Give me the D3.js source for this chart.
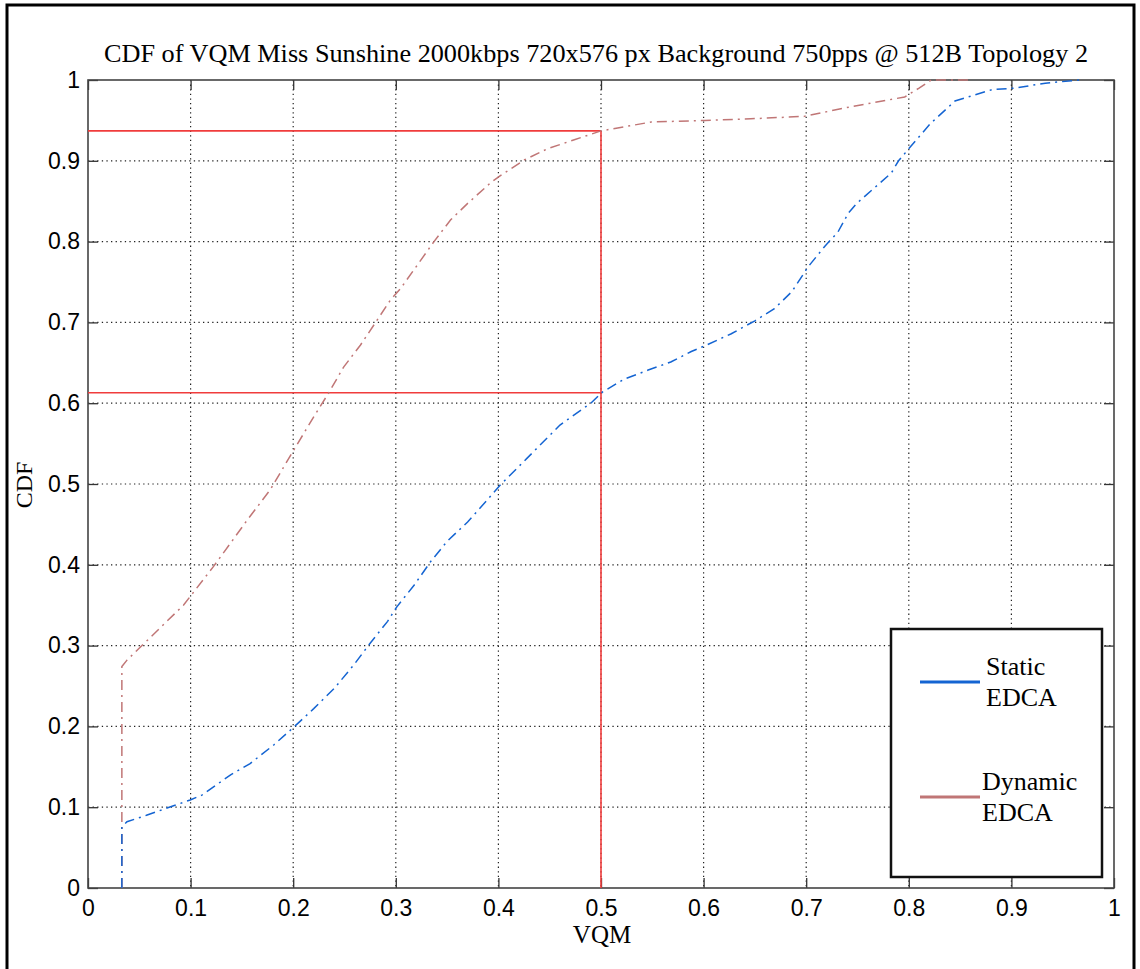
<!DOCTYPE html>
<html>
<head>
<meta charset="utf-8">
<script src="https://cdn.jsdelivr.net/npm/d3@7"></script>
<style>
  body { margin: 0; background: #fff; }
  svg { display: block; }
</style>
</head>
<body>
<div id="chart"></div>
<script>
// values
var xTicks = [0, 0.1, 0.2, 0.3, 0.4, 0.5, 0.6, 0.7, 0.8, 0.9, 1]
var yTicks = [0, 0.1, 0.2, 0.3, 0.4, 0.5, 0.6, 0.7, 0.8, 0.9, 1]

var staticX = [0.033, 0.033, 0.038, 0.057, 0.0996, 0.111, 0.139, 0.158, 0.181, 0.2005, 0.22, 0.24, 0.259, 0.275, 0.292, 0.301, 0.318, 0.334, 0.35, 0.37, 0.389, 0.402, 0.428, 0.46, 0.49, 0.5016, 0.523, 0.546, 0.568, 0.588, 0.603, 0.627, 0.65, 0.669, 0.686, 0.702, 0.718, 0.731, 0.741, 0.749, 0.783, 0.79, 0.802, 0.821, 0.845, 0.881, 0.903, 0.933, 0.966]
var staticY = [0, 0.076, 0.082, 0.09, 0.109, 0.115, 0.14, 0.154, 0.177, 0.199, 0.222, 0.247, 0.276, 0.303, 0.33, 0.348, 0.375, 0.404, 0.429, 0.453, 0.48, 0.499, 0.532, 0.573, 0.6, 0.614, 0.63, 0.641, 0.651, 0.664, 0.672, 0.686, 0.702, 0.717, 0.738, 0.769, 0.794, 0.812, 0.835, 0.847, 0.885, 0.9, 0.918, 0.946, 0.974, 0.988, 0.99, 0.996, 1.0]

var dynamicX = [0.033, 0.033, 0.038, 0.093, 0.1224, 0.155, 0.1777, 0.2005, 0.22, 0.2347, 0.2493, 0.2656, 0.2803, 0.2949, 0.3047, 0.321, 0.3372, 0.3535, 0.3698, 0.3926, 0.4023, 0.4251, 0.448, 0.474, 0.5, 0.549, 0.601, 0.646, 0.698, 0.744, 0.796, 0.81, 0.822, 0.861]
var dynamicY = [0, 0.274, 0.282, 0.35, 0.398, 0.455, 0.493, 0.542, 0.583, 0.613, 0.645, 0.672, 0.7, 0.728, 0.742, 0.771, 0.8, 0.827, 0.847, 0.873, 0.882, 0.901, 0.915, 0.926, 0.937, 0.948, 0.95, 0.952, 0.955, 0.967, 0.979, 0.99, 1.0, 1.0]

// marker lines at VQM = 0.5
var markX = 0.5
var markY = [0.613, 0.937]

var seriesNames = [['Static', 'EDCA'], ['Dynamic', 'EDCA']]
var seriesColors = ['#1464d2', '#c07676']

var svgWidth = 1140,
    svgHeight = 969
var plot = { left: 88, right: 1114, top: 80, bottom: 888 }

var svg = d3.select('#chart').append('svg')
    .attr('width', svgWidth)
    .attr('height', svgHeight)

// outer frame of the figure
svg.append('path')
    .attr('d', 'M7,' + svgHeight + 'V5H1134V' + svgHeight)
    .attr('fill', 'none')
    .attr('stroke', '#000')
    .attr('stroke-width', 3)

var xScale = d3.scaleLinear().domain([0, 1]).range([plot.left, plot.right])
var yScale = d3.scaleLinear().domain([0, 1]).range([plot.bottom, plot.top])
var w = plot.right - plot.left,
    h = plot.bottom - plot.top

// dotted grid
var grid = svg.append('g')
grid.selectAll('.gx')
    .data(xTicks.slice(1, -1))
    .enter().append('line')
    .attr('x1', d => xScale(d)).attr('x2', d => xScale(d))
    .attr('y1', plot.top).attr('y2', plot.bottom)
grid.selectAll('.gy')
    .data(yTicks.slice(1, -1))
    .enter().append('line')
    .attr('y1', d => yScale(d)).attr('y2', d => yScale(d))
    .attr('x1', plot.left).attr('x2', plot.right)
grid.selectAll('line')
    .attr('stroke', '#222')
    .attr('stroke-width', 1.2)
    .attr('stroke-dasharray', '1.3,3.3')

// axes, ticks pointing inwards (matlab style)
function styleAxis(g) {
    g.select('.domain').remove()
    g.selectAll('.tick line').attr('stroke', '#333').attr('stroke-width', 1.3)
    g.selectAll('.tick text')
        .attr('fill', '#000')
        .style('font-family', '"Liberation Sans", Arial, sans-serif')
        .style('font-size', '23px')
}

svg.append('g')
    .attr('transform', 'translate(0,' + plot.bottom + ')')
    .call(d3.axisBottom(xScale).tickValues(xTicks).tickFormat(d3.format('')).tickSizeInner(-10).tickPadding(12))
    .call(styleAxis)
svg.append('g')
    .attr('transform', 'translate(' + plot.left + ',0)')
    .call(d3.axisLeft(yScale).tickValues(yTicks).tickFormat(d3.format('')).tickSizeInner(-10).tickPadding(8))
    .call(styleAxis)
svg.append('g')
    .attr('transform', 'translate(0,' + plot.top + ')')
    .call(d3.axisTop(xScale).tickValues(xTicks).tickFormat('').tickSizeInner(-10))
    .call(styleAxis)
svg.append('g')
    .attr('transform', 'translate(' + plot.right + ',0)')
    .call(d3.axisRight(yScale).tickValues(yTicks).tickFormat('').tickSizeInner(-10))
    .call(styleAxis)

svg.append('rect')
    .attr('x', plot.left).attr('y', plot.top)
    .attr('width', w).attr('height', h)
    .attr('fill', 'none')
    .attr('stroke', '#444')
    .attr('stroke-width', 1.6)

// red marker lines
var red = svg.append('g')
    .attr('stroke', '#f03c3c')
    .attr('stroke-width', 1.6)
red.append('line')
    .attr('x1', xScale(markX)).attr('x2', xScale(markX))
    .attr('y1', yScale(0)).attr('y2', yScale(d3.max(markY)))
red.selectAll('.hm')
    .data(markY)
    .enter().append('line')
    .attr('x1', xScale(0)).attr('x2', xScale(markX))
    .attr('y1', d => yScale(d)).attr('y2', d => yScale(d))

// cdf curves, dash-dot
var line = d3.line()
    .x(d => xScale(d[0]))
    .y(d => yScale(d[1]))

var series = [d3.zip(staticX, staticY), d3.zip(dynamicX, dynamicY)]

svg.selectAll('.curve')
    .data([series[1], series[0]])
    .enter().append('path')
    .attr('class', 'curve')
    .attr('d', line)
    .attr('fill', 'none')
    .attr('stroke', (d, i) => seriesColors[1 - i])
    .attr('stroke-width', 1.5)
    .attr('stroke-dasharray', '10,5,2,5')

// title + labels
var serif = '"Liberation Serif", "Times New Roman", serif'
svg.append('text')
    .attr('x', 596)
    .attr('y', 62)
    .attr('text-anchor', 'middle')
    .attr('textLength', 984)
    .attr('lengthAdjust', 'spacingAndGlyphs')
    .style('font-family', serif)
    .style('font-size', '26px')
    .text('CDF of VQM Miss Sunshine 2000kbps 720x576 px Background 750pps @ 512B Topology 2')

svg.append('text')
    .attr('x', 602)
    .attr('y', 943)
    .attr('text-anchor', 'middle')
    .style('font-family', serif)
    .style('font-size', '25px')
    .text('VQM')

svg.append('text')
    .attr('transform', 'translate(32,485) rotate(-90)')
    .attr('text-anchor', 'middle')
    .style('font-family', serif)
    .style('font-size', '24px')
    .text('CDF')

// legend
var legend = svg.append('g')
legend.append('rect')
    .attr('x', 891).attr('y', 629)
    .attr('width', 211).attr('height', 248)
    .attr('fill', '#fff')
    .attr('stroke', '#111')
    .attr('stroke-width', 2.5)

var legendY = [682, 797]
var legendTextX = [986, 982]
seriesNames.forEach((names, i) => {
    legend.append('line')
        .attr('x1', 920).attr('x2', 980)
        .attr('y1', legendY[i]).attr('y2', legendY[i])
        .attr('stroke', seriesColors[i])
        .attr('stroke-width', 3)
    names.forEach((t, j) => {
        legend.append('text')
            .attr('x', legendTextX[i])
            .attr('y', legendY[i] - 7 + j * 31)
            .style('font-family', serif)
            .style('font-size', '26px')
            .text(t)
    })
})
</script>
</body>
</html>
